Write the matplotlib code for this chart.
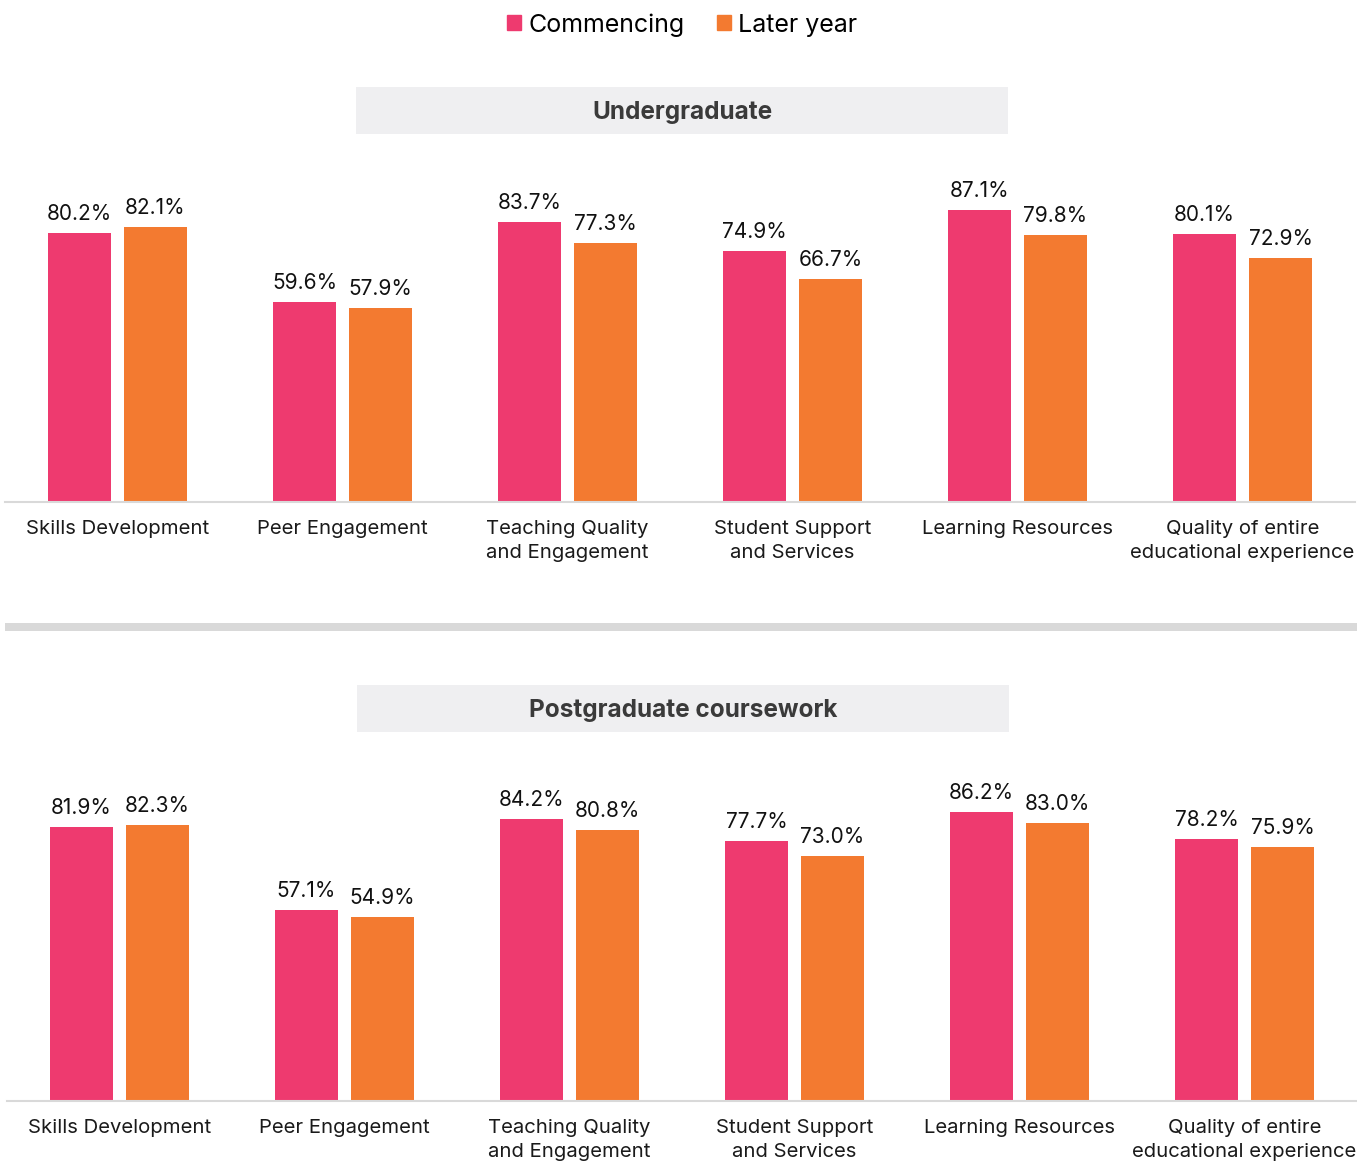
import matplotlib.pyplot as plt
from matplotlib.patches import Rectangle
import numpy as np

plt.rcParams['font.family'] = ['Inter', 'DejaVu Sans']

categories = ['Skills Development', 'Peer Engagement', 'Teaching Quality\nand Engagement',
              'Student Support\nand Services', 'Learning Resources',
              'Quality of entire\neducational experience']
series = ['Commencing', 'Later year']
ug_commencing = [80.2, 59.6, 83.7, 74.9, 87.1, 80.1]
ug_later = [82.1, 57.9, 77.3, 66.7, 79.8, 72.9]
pg_commencing = [81.9, 57.1, 84.2, 77.7, 86.2, 78.2]
pg_later = [82.3, 54.9, 80.8, 73.0, 83.0, 75.9]
panel_titles = ['Undergraduate', 'Postgraduate coursework']

PINK = '#EE3A6F'
ORANGE = '#F37A30'
W, H = 1357, 1161

fig = plt.figure(figsize=(W / 100, H / 100), dpi=100)


def px(x0, y0, w, h):
    # pixel box (from top-left) -> figure fraction
    return [x0 / W, 1 - (y0 + h) / H, w / W, h / H]


def draw_panel(rect, a, b):
    ax = fig.add_axes(rect)
    x = np.arange(len(categories))
    width = 0.28
    off = 0.169
    b1 = ax.bar(x - off, a, width, color=PINK, edgecolor='none')
    b2 = ax.bar(x + off, b, width, color=ORANGE, edgecolor='none')
    for bars, vals in ((b1, a), (b2, b)):
        for bar, v in zip(bars, vals):
            ax.annotate(f'{v:.1f}%', (bar.get_x() + bar.get_width() / 2, v),
                        xytext=(0, 6.5), textcoords='offset points',
                        ha='center', va='bottom', fontsize=15, color='#111111')
    ax.set_xlim(-0.5, 5.5)
    ax.set_ylim(0, 100)
    ax.set_xticks(x)
    ax.set_xticklabels(categories, fontsize=14.6, color='#1a1a1a', linespacing=1.45)
    ax.tick_params(axis='x', length=0, pad=13)
    ax.set_yticks([])
    for s in ('top', 'right', 'left'):
        ax.spines[s].set_visible(False)
    ax.spines['bottom'].set_color('#D9D9D9')
    ax.spines['bottom'].set_linewidth(1.5)
    return ax


draw_panel(px(5, 167, 1350, 335), ug_commencing, ug_later)
draw_panel(px(7, 766, 1350, 335), pg_commencing, pg_later)

# panel title boxes
for (x0, y0), title in zip([(356, 87), (357, 685)], panel_titles):
    fig.patches.append(Rectangle((x0 / W, 1 - (y0 + 47) / H), 652 / W, 47 / H,
                                 transform=fig.transFigure, facecolor='#EFEFF1',
                                 edgecolor='none'))
    fig.text((x0 + 326) / W, 1 - (y0 + 25) / H, title, ha='center', va='center',
             fontsize=17.5, fontweight='bold', color='#3A3A3A')

# separator band
fig.patches.append(Rectangle((5 / W, 1 - 631 / H), 1352 / W, 8 / H,
                             transform=fig.transFigure, facecolor='#D9D9D9',
                             edgecolor='none'))

# legend
handles = [Rectangle((0, 0), 1, 1, color=PINK), Rectangle((0, 0), 1, 1, color=ORANGE)]
fig.legend(handles, series, loc='center', bbox_to_anchor=(682 / W, 1 - 25 / H),
           ncol=2, frameon=False, fontsize=18, handlelength=0.55, handleheight=0.55,
           handletextpad=0.3, columnspacing=1.3)

fig.savefig('out.png', dpi=100)
